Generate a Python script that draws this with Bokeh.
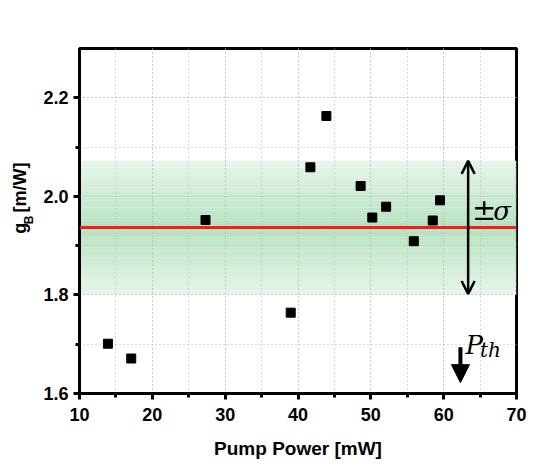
import numpy as np
from bokeh.plotting import figure
from bokeh.layouts import row
from bokeh.models import (Range1d, SingleIntervalTicker, Span, Label, Arrow,
                          OpenHead, NormalHead, ColumnDataSource)
from bokeh.core.properties import value
from bokeh.embed import file_html
from bokeh.resources import INLINE

# Brillouin gain measurements
pump_power = [13.9, 17.1, 27.3, 39.0, 41.7, 43.9, 48.6, 50.2, 52.1, 55.9, 58.5, 59.5]
gain_b = [1.701, 1.671, 1.952, 1.764, 2.059, 2.163, 2.021, 1.957, 1.979, 1.909, 1.951, 1.992]

mean_gain = 1.937
sigma_gain = 0.135
threshold_power = 62.3

TICK_FONT = "Liberation Sans"
WIDTH, HEIGHT = 538, 473
TITLE_W = 36          # strip holding the rotated y-axis title
FRAME_LEFT = 79       # left edge of the plot frame on the page

# --- main plot -------------------------------------------------------------
p = figure(width=WIDTH - TITLE_W, height=HEIGHT, output_backend="svg",
           toolbar_location=None,
           x_range=Range1d(10, 70), y_range=Range1d(1.6, 2.3),
           min_border_left=FRAME_LEFT - TITLE_W, min_border_right=22,
           min_border_top=48, min_border_bottom=80)

# shaded ±sigma band, darker toward the mean
n_strips = 40
edges = np.linspace(mean_gain - sigma_gain, mean_gain + sigma_gain, n_strips + 1)
mids = 0.5 * (edges[:-1] + edges[1:])
c_edge = np.array([230, 244, 232])
c_mid = np.array([180, 226, 191])
colors = []
for m in mids:
    t = abs(m - mean_gain) / sigma_gain
    c = c_mid + (c_edge - c_mid) * t
    colors.append("#%02x%02x%02x" % tuple(int(round(v)) for v in c))
band = ColumnDataSource(dict(bottom=edges[:-1], top=edges[1:], color=colors))
p.quad(left=10, right=70, bottom="bottom", top="top", fill_color="color",
       line_color=None, source=band, level="underlay")

p.add_layout(Span(location=mean_gain, dimension="width", line_color="#ff1a1a",
                  line_width=3))

p.scatter(pump_power, gain_b, marker="square", size=9, fill_color="black",
          line_color="black")

# ±sigma double arrow
p.add_layout(Arrow(x_start=63.36, x_end=63.36,
                   y_start=mean_gain - sigma_gain, y_end=mean_gain + sigma_gain,
                   line_width=2.5, line_color="black",
                   start=OpenHead(size=13, line_width=2.5, line_color="black"),
                   end=OpenHead(size=13, line_width=2.5, line_color="black")))
p.add_layout(Label(x=63.9, y=1.973, text="±", text_font="DejaVu Serif",
                   text_font_size="29px", text_baseline="middle",
                   text_align="left", text_color="black"))
p.add_layout(Label(x=66.8, y=1.971, text="σ", text_font="DejaVu Serif",
                   text_font_style="italic", text_font_size="26px",
                   text_baseline="middle", text_align="left", text_color="black"))

# threshold arrow
p.add_layout(Arrow(x_start=threshold_power, x_end=threshold_power,
                   y_start=1.694, y_end=1.622, line_width=4, line_color="black",
                   end=NormalHead(size=18, fill_color="black", line_color="black",
                                  line_width=1)))
p.add_layout(Label(x=63.0, y=1.698, text="P", text_font="DejaVu Serif",
                   text_font_style="italic", text_font_size="26px",
                   text_baseline="alphabetic", text_align="left", text_color="black"))
p.add_layout(Label(x=65.0, y=1.689, text="th", text_font="DejaVu Serif",
                   text_font_style="italic", text_font_size="20px",
                   text_baseline="alphabetic", text_align="left", text_color="black"))

# axes
p.xaxis.ticker = SingleIntervalTicker(interval=10, num_minor_ticks=2)
p.yaxis.ticker = SingleIntervalTicker(interval=0.2, num_minor_ticks=2)
p.yaxis.major_label_overrides = {1.6: "1.6", 1.8: "1.8", 2.0: "2.0", 2.2: "2.2"}
p.xaxis.axis_label = "Pump Power [mW]"
for ax in (p.xaxis, p.yaxis):
    ax.axis_line_width = 3
    ax.axis_line_color = "black"
    ax.major_tick_line_width = 3
    ax.major_tick_line_color = "black"
    ax.major_tick_out = 6
    ax.major_tick_in = 0
    ax.minor_tick_line_width = 3
    ax.minor_tick_line_color = "black"
    ax.minor_tick_out = 4
    ax.minor_tick_in = 0
    ax.major_label_text_font = TICK_FONT
    ax.major_label_text_font_style = "bold"
    ax.major_label_text_font_size = "18px"
    ax.major_label_text_color = "black"
    ax.axis_label_text_font = TICK_FONT
    ax.axis_label_text_font_style = "bold"
    ax.axis_label_text_font_size = "19px"
    ax.axis_label_text_color = "black"
p.xaxis.major_label_standoff = 8
p.xaxis.axis_label_standoff = 14
p.yaxis.major_label_standoff = 5

for g in (p.xgrid, p.ygrid):
    g.grid_line_color = "#b5b5b5"
    g.grid_line_dash = "1 3"
    g.grid_line_width = 1
    g.minor_grid_line_color = "#b5b5b5"
    g.minor_grid_line_dash = "1 3"
    g.minor_grid_line_width = 1
    g.level = "underlay"

p.outline_line_color = "black"
p.outline_line_width = 3
p.background_fill_color = "white"
p.border_fill_color = "white"

# --- y-axis title "g_B [m/W]" in its own strip (pixel coordinates) ----------
t = figure(width=TITLE_W, height=HEIGHT, output_backend="svg",
           toolbar_location=None, x_range=Range1d(0, TITLE_W),
           y_range=Range1d(HEIGHT, 0), x_axis_location=None,
           y_axis_location=None, min_border=0)
t.xgrid.visible = False
t.ygrid.visible = False
t.outline_line_color = None
t.border_fill_color = "white"
t.background_fill_color = "white"

title_parts = ["g", "B", "[m/W]"]
title_x = [19, 28, 19]
title_y = [254, 241, 225]
title_size = ["18px", "12px", "18px"]
for s, x, y, fs in zip(title_parts, title_x, title_y, title_size):
    t.text(x=[x], y=[y], text=[s], angle=np.pi / 2,
           text_font=value(TICK_FONT), text_font_style="bold",
           text_font_size=fs, text_baseline="middle", text_align="left",
           text_color="black")

layout = row(t, p, spacing=0)
open("out.html", "w").write(file_html(layout, INLINE))
